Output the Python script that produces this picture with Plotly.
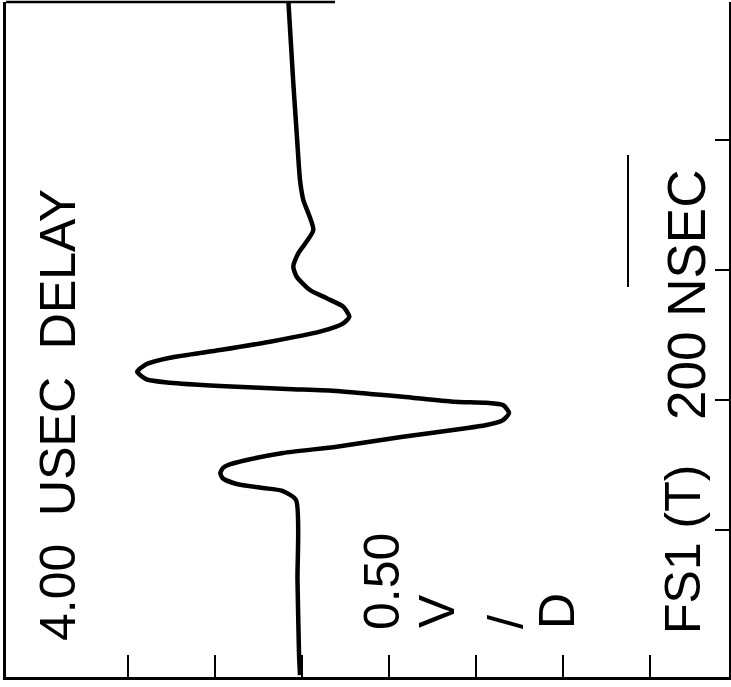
import plotly.graph_objects as go

# Waveform: time (ns) and amplitude (V)
time_ns = [-23.1, 10.8, 123.1, 246.2, 260.5, 264.6, 270.8, 279.2, 287.2, 295.4,
           300.0, 307.7, 318.5, 328.2, 343.5, 353.8, 361.5, 369.2, 380.0, 392.3,
           395.8, 397.4, 405.1, 409.2, 413.8, 416.9, 421.5, 426.6, 431.8, 443.5,
           455.4, 465.1, 476.9, 489.7, 505.1, 518.0, 528.2, 543.5, 556.5, 569.2,
           589.7, 605.1, 625.7, 661.5, 707.7, 738.5, 810.8, 887.7, 1015.4]
volts = [0.0115, 0.0172, 0.0259, 0.0345, 0.1167, 0.224, 0.375, 0.454, 0.4695, 0.454,
         0.425, 0.318, 0.109, -0.199, -0.580, -0.868, -1.061, -1.155, -1.190, -1.155,
         -1.061, -0.868, -0.580, -0.391, -0.199, 0.0862, 0.471, 0.759, 0.893, 0.947,
         0.893, 0.759, 0.471, 0.184, -0.103, -0.237, -0.272, -0.237, -0.142, -0.046,
         0.0305, 0.050, 0.0213, -0.065, -0.0075, 0.0115, 0.0305, 0.050, 0.0787]

volt_ticks = [1.0, 0.5, 0.0, -0.5, -1.0, -1.5, -2.0]
time_ticks = [200, 400, 600, 800]

W, H = 731, 687
L, R, T, B = 6, 2, 2, 10

fig = go.Figure()
fig.add_trace(go.Scatter(x=volts, y=time_ns, mode="lines",
                         line=dict(color="black", width=4.5, shape="spline", smoothing=0.6),
                         hoverinfo="skip", showlegend=False))

fig.update_layout(
    width=W, height=H,
    margin=dict(l=L, r=R, t=T, b=B),
    paper_bgcolor="white", plot_bgcolor="white",
    showlegend=False,
    xaxis=dict(range=[1.7011, -2.454], tickvals=volt_ticks, ticks="inside", ticklen=22,
               tickwidth=2, tickcolor="black", showticklabels=False, showgrid=False,
               zeroline=False, showline=True, linecolor="black", linewidth=2.5, mirror=False),
    yaxis=dict(range=[-26.15, 1012.3], tickvals=time_ticks, ticks="inside", ticklen=14,
               tickwidth=2, tickcolor="black", showticklabels=False, showgrid=False,
               zeroline=False, showline=True, linecolor="black", linewidth=2.5, mirror=True,
               side="right"),
)

pw, ph = W - L - R, H - T - B
def px(x):
    return (x - L) / pw
def py(y):
    return (H - B - y) / ph

# partial top border
fig.add_shape(type="line", xref="paper", yref="paper", x0=0, x1=px(335), y0=1, y1=1,
              line=dict(color="black", width=2.5))
# 200 ns scale bar
fig.add_shape(type="line", xref="paper", yref="paper", x0=px(628), x1=px(628),
              y0=py(287), y1=py(155), line=dict(color="black", width=2))

def label(text, x, y, size=50):
    fig.add_annotation(text=text, xref="paper", yref="paper", x=px(x), y=py(y),
                       xanchor="center", yanchor="middle", textangle=-90, showarrow=False,
                       font=dict(family="Liberation Sans, Arial", size=size, color="black"))

label("4.00  USEC  DELAY", 58, 415)
label("0.50", 382, 582)
label("V", 437, 611)
label("/", 506, 622)
label("D", 557, 611)
label("FS1 (T)", 683, 550)
label("200 NSEC", 686, 295, size=53)

fig.write_html("out.html", config={"displayModeBar": False},
               post_script="document.body.style.margin='0';")
